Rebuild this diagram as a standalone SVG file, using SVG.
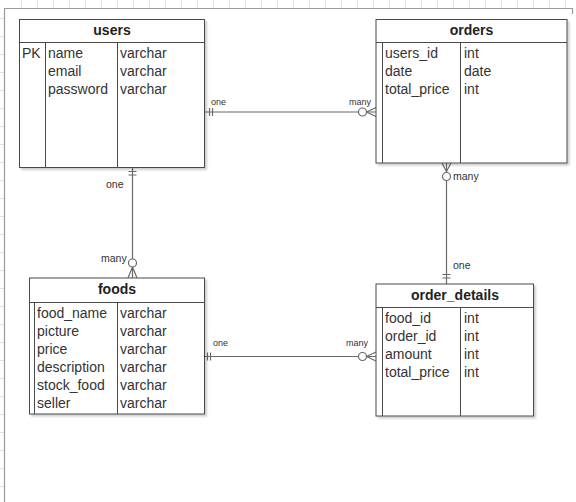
<svg xmlns="http://www.w3.org/2000/svg" width="576" height="502" viewBox="0 0 576 502">
<defs>
<style>
.frame{stroke:#9a9a9a;stroke-width:1.2;fill:none}
.tick{stroke:#e0e0e0;stroke-width:1;fill:none}
.box{fill:#ffffff;stroke:#4a4a4a;stroke-width:1}
.ln{stroke:#4a4a4a;stroke-width:1;fill:none}
.hd{font-family:"Liberation Sans",Arial,sans-serif;font-size:14px;font-weight:bold;fill:#222;text-anchor:middle}
.tx{font-family:"Liberation Sans",Arial,sans-serif;font-size:14px;fill:#333}
.lb{font-family:"Liberation Sans",Arial,sans-serif;font-size:9px;fill:#333}
.lbv{font-family:"Liberation Sans",Arial,sans-serif;font-size:10.5px;fill:#333}
.cn{stroke:#6a6a6a;stroke-width:1.2;fill:none}
.cc{stroke:#6a6a6a;stroke-width:1.2;fill:#ffffff}
</style>
<filter id="sh" x="-10%" y="-10%" width="130%" height="130%">
<feDropShadow dx="2" dy="2" stdDeviation="1" flood-color="#000" flood-opacity="0.2"/>
</filter>
</defs>
<rect x="0" y="0" width="576" height="502" fill="#ffffff"/>
<g id="frame">
<path class="tick" d="M21.5 0V8M37.5 0V8M53.5 0V8M69.5 0V8M85.5 0V8M101.5 0V8M117.5 0V8M133.5 0V8M149.5 0V8M165.5 0V8M181.5 0V8M197.5 0V8M213.5 0V8M229.5 0V8M245.5 0V8M261.5 0V8M277.5 0V8M293.5 0V8M309.5 0V8M325.5 0V8M341.5 0V8M357.5 0V8M373.5 0V8M389.5 0V8M405.5 0V8M421.5 0V8M437.5 0V8M453.5 0V8M469.5 0V8M485.5 0V8M501.5 0V8M517.5 0V8M533.5 0V8M549.5 0V8M565.5 0V8"/>
<path class="tick" d="M0 18.5H4M0 36.5H4M0 54.5H4M0 72.5H4M0 90.5H4M0 108.5H4M0 126.5H4M0 144.5H4M0 162.5H4M0 180.5H4M0 198.5H4M0 216.5H4M0 234.5H4M0 252.5H4M0 270.5H4M0 288.5H4M0 306.5H4M0 324.5H4M0 342.5H4M0 360.5H4M0 378.5H4M0 396.5H4M0 414.5H4M0 432.5H4M0 450.5H4M0 468.5H4M0 486.5H4"/>
<path class="frame" d="M4.5 502V8.5H572.5V14"/>
</g>
<g id="connectors">
<!-- users - orders -->
<line class="cn" x1="205" y1="112" x2="376" y2="112"/>
<path class="cn" d="M209.5 108V116M212.5 108V116"/>
<circle class="cc" cx="362.5" cy="112" r="4"/>
<path class="cn" d="M366.5 112L376 107.5M366.5 112L376 116.5"/>
<text class="lb" x="211" y="105">one</text>
<text class="lb" x="349" y="105">many</text>
<!-- users - foods -->
<line class="cn" x1="132.5" y1="167" x2="132.5" y2="278"/>
<path class="cn" d="M128.5 171.5H136.5M128.5 175H136.5"/>
<circle class="cc" cx="132.5" cy="263" r="4"/>
<path class="cn" d="M132.5 267L128 278M132.5 267L137 278"/>
<text class="lbv" x="106" y="188">one</text>
<text class="lbv" x="101" y="262">many</text>
<!-- orders - order_details -->
<line class="cn" x1="446.5" y1="163" x2="446.5" y2="284"/>
<path class="cn" d="M446.5 171.5L442 163M446.5 171.5L451 163"/>
<circle class="cc" cx="446.5" cy="176.5" r="4"/>
<path class="cn" d="M442.5 274.5H450.5M442.5 278H450.5"/>
<text class="lbv" x="453" y="179.5">many</text>
<text class="lbv" x="453" y="269">one</text>
<!-- foods - order_details -->
<line class="cn" x1="205" y1="356.5" x2="376" y2="356.5"/>
<path class="cn" d="M207.5 352.5V360.5M210.5 352.5V360.5"/>
<circle class="cc" cx="362.5" cy="356.5" r="4"/>
<path class="cn" d="M366.5 356.5L376 352M366.5 356.5L376 361"/>
<text class="lb" x="213" y="346">one</text>
<text class="lb" x="346" y="346">many</text>
</g>
<g id="users">
<rect class="box" x="19.5" y="19.5" width="185" height="148" filter="url(#sh)"/>
<path class="ln" d="M19.5 42.5H204.5M45.5 42.5V167.5M117.5 42.5V167.5"/>
<text class="hd" x="112" y="35">users</text>
<text class="tx" x="22" y="58">PK</text>
<text class="tx" x="48" y="58">name</text>
<text class="tx" x="48" y="76">email</text>
<text class="tx" x="48" y="94">password</text>
<text class="tx" x="120" y="58">varchar</text>
<text class="tx" x="120" y="76">varchar</text>
<text class="tx" x="120" y="94">varchar</text>
</g>
<g id="orders">
<rect class="box" x="376" y="19.5" width="191" height="143.5" filter="url(#sh)"/>
<path class="ln" d="M376 42.5H567M382.5 42.5V163M460.5 42.5V163"/>
<text class="hd" x="471.5" y="35">orders</text>
<text class="tx" x="385" y="58">users_id</text>
<text class="tx" x="385" y="76">date</text>
<text class="tx" x="385" y="94">total_price</text>
<text class="tx" x="464" y="58">int</text>
<text class="tx" x="464" y="76">date</text>
<text class="tx" x="464" y="94">int</text>
</g>
<g id="foods">
<rect class="box" x="29.5" y="278" width="175" height="136" filter="url(#sh)"/>
<path class="ln" d="M29.5 302.5H204.5M34.5 302.5V414M117.5 302.5V414"/>
<text class="hd" x="117" y="294">foods</text>
<text class="tx" x="37" y="318">food_name</text>
<text class="tx" x="37" y="336">picture</text>
<text class="tx" x="37" y="354">price</text>
<text class="tx" x="37" y="372">description</text>
<text class="tx" x="37" y="390">stock_food</text>
<text class="tx" x="37" y="408">seller</text>
<text class="tx" x="120" y="318">varchar</text>
<text class="tx" x="120" y="336">varchar</text>
<text class="tx" x="120" y="354">varchar</text>
<text class="tx" x="120" y="372">varchar</text>
<text class="tx" x="120" y="390">varchar</text>
<text class="tx" x="120" y="408">varchar</text>
</g>
<g id="order_details">
<rect class="box" x="376" y="284" width="157.5" height="132" filter="url(#sh)"/>
<path class="ln" d="M376 307.5H533.5M382.5 307.5V416M460.5 307.5V416"/>
<text class="hd" x="455" y="299.5">order_details</text>
<text class="tx" x="385" y="323">food_id</text>
<text class="tx" x="385" y="341">order_id</text>
<text class="tx" x="385" y="359">amount</text>
<text class="tx" x="385" y="377">total_price</text>
<text class="tx" x="464" y="323">int</text>
<text class="tx" x="464" y="341">int</text>
<text class="tx" x="464" y="359">int</text>
<text class="tx" x="464" y="377">int</text>
</g>
</svg>
